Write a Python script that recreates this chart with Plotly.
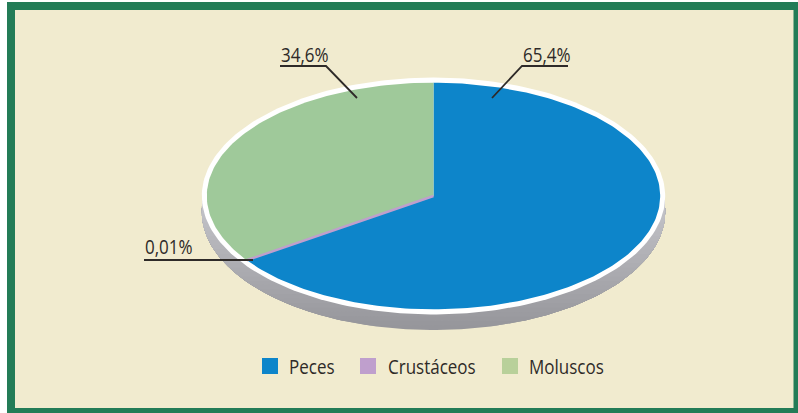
import numpy as np
import plotly.graph_objects as go

# Data
categories = ["Peces", "Crustáceos", "Moluscos"]
values = [65.4, 0.01, 34.6]
value_labels = ["65,4%", "0,01%", "34,6%"]

# Style
pie_colors = ["#0D85CA", "#BF9FCD", "#9FC99A"]
legend_colors = ["#0D85CA", "#BF9FCD", "#B8D09A"]
BG, FRAME, INK = "#F1EBCF", "#237C57", "#2E2A28"
FONT = "Open Sans, sans-serif"
W, H = 798, 413
CX, CY, RX, RY = 433.5, 196.0, 226.7, 113.3
RIM_RX, RIM_RY = 231.7, 118.4
DEPTH = 15.7

def ellipse(cx, cy, rx, ry, n=240):
    t = np.linspace(0, 2 * np.pi, n)
    return cx + rx * np.sin(t), cy - ry * np.cos(t)

fig = go.Figure()

def poly(x, y, color, line_w=0, line_c=None):
    fig.add_trace(go.Scatter(
        x=x, y=y, mode="lines", fill="toself", fillcolor=color,
        line=dict(color=line_c or color, width=line_w),
        hoverinfo="skip", showlegend=False))

# Extruded edge: lowered ellipse, shaded by a vertical gradient (dark at the bottom)
ex, ey = ellipse(CX, CY + DEPTH, RIM_RX, RIM_RY)
bands = 30
y_top, y_bot = CY, CY + DEPTH + RIM_RY
for k in range(bands, 0, -1):
    f = k / bands
    yk = y_top + (y_bot - y_top) * f
    g = int(200 - 50 * f)
    poly(ex, np.minimum(ey, yk), f"rgb({g},{g},{g + 5})")

# White rim
x, y = ellipse(CX, CY, RIM_RX, RIM_RY)
poly(x, y, "#FFFFFF")

# Wedges, clockwise from the top
total = sum(values)
ends = np.cumsum(values) / total * 2 * np.pi
starts = np.concatenate([[0], ends[:-1]])
order = [0, 2, 1]
for i in order:
    t = np.linspace(starts[i], ends[i], max(3, int(300 * values[i] / total)))
    wx = np.concatenate([[CX], CX + RX * np.sin(t), [CX]])
    wy = np.concatenate([[CY], CY - RY * np.cos(t), [CY]])
    is_thin = values[i] < 1
    poly(wx, wy, pie_colors[i], 2.4 if is_thin else 0)

# Leader lines
leaders = [([492, 522, 568], [98, 66, 66]),
           ([144, 253], [260, 260]),
           ([357, 326, 280], [98, 66, 66])]
for lx, ly in leaders:
    fig.add_trace(go.Scatter(x=lx, y=ly, mode="lines",
                             line=dict(color=INK, width=1.8),
                             hoverinfo="skip", showlegend=False))

# Value labels
label_pos = [(521, 54), (143, 246), (279, 54)]
for txt, (lx, ly) in zip(value_labels, label_pos):
    fig.add_annotation(x=lx, y=ly, text=txt, showarrow=False, xanchor="left",
                       yanchor="middle", font=dict(family=FONT, size=20, color=INK))

# Legend
swatch_x = [270, 368, 510]
text_x = [287, 386, 527]
fig.add_trace(go.Scatter(
    x=swatch_x, y=[366] * 3, mode="markers",
    marker=dict(symbol="square", size=16, color=legend_colors, line=dict(width=0)),
    hoverinfo="skip", showlegend=False))
for name, tx in zip(categories, text_x):
    fig.add_annotation(x=tx, y=366, text=name, showarrow=False, xanchor="left",
                       yanchor="middle", font=dict(family=FONT, size=20, color=INK))

# Frame
shapes = [
    dict(type="rect", xref="x", yref="y", x0=7, y0=2, x1=W, y1=H,
         fillcolor=FRAME, line_width=0, layer="below"),
    dict(type="rect", xref="x", yref="y", x0=15, y0=10, x1=793.5, y1=408,
         fillcolor=BG, line_width=0, layer="below"),
]

fig.update_layout(
    width=W, height=H, margin=dict(l=0, r=0, t=0, b=0),
    paper_bgcolor="#FFFFFF", plot_bgcolor="rgba(0,0,0,0)",
    xaxis=dict(range=[0, W], visible=False, fixedrange=True),
    yaxis=dict(range=[H, 0], visible=False, fixedrange=True),
    shapes=shapes, showlegend=False,
)

# Condense the text horizontally (the reference uses a condensed face)
css = ("body{margin:0}"
       ".annotation-text{transform-box:fill-box;transform-origin:0 50%;"
       "transform:scaleX(0.85);}")
fig.write_html("out.html", config=dict(displayModeBar=False, staticPlot=True),
               post_script="var s=document.createElement('style');s.textContent=%r;"
                           "document.head.appendChild(s);" % css)
